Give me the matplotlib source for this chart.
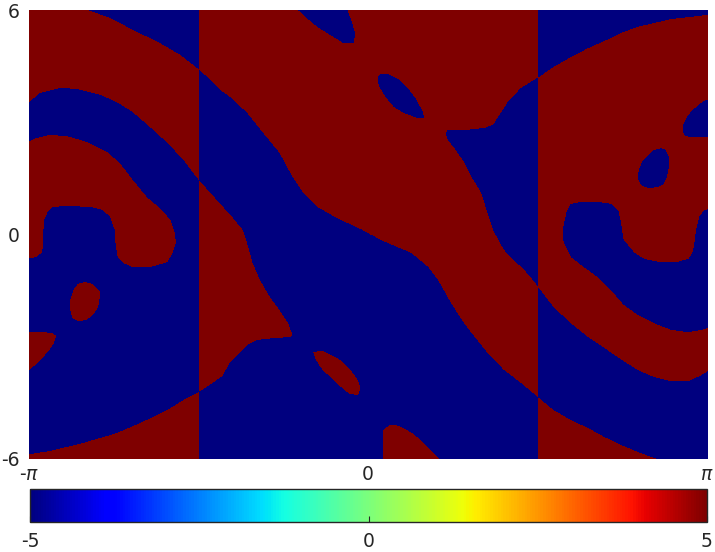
import numpy as np
import matplotlib
matplotlib.use("Agg")
import matplotlib.pyplot as plt
from matplotlib.path import Path

plt.rcParams['axes.unicode_minus'] = False
plt.rcParams['font.family'] = 'DejaVu Sans'

# the picture only has two levels, the ends of the colour scale
LOW, HIGH = -5, 5

# the field jumps at x = -pi/2 and x = pi/2, so each band is traced on its own
band_cuts = [-np.pi / 2, np.pi / 2]

# outlines, (x, y) in data units

# left band (x < -pi/2)
left_top_red = [(-3.2, 6.2), (-2.60, 6.2), (-2.60, 6.00), (-2.39, 5.79), (-2.18, 5.47), (-1.93, 5.12),
                (-1.74, 4.80), (-1.57, 4.42), (-1.5, 4.42), (-1.5, 1.46), (-1.57, 1.46), (-1.71, 1.99),
                (-1.86, 2.45), (-2.02, 2.87), (-2.18, 3.27), (-2.33, 3.54), (-2.48, 3.73), (-2.70, 3.89),
                (-2.85, 3.92), (-3.04, 3.78), (-3.14, 3.54), (-3.2, 3.54)]
left_hook_red = [(-3.2, 2.42), (-3.07, 2.58), (-2.95, 2.66), (-2.79, 2.63), (-2.60, 2.47), (-2.42, 2.21),
                 (-2.30, 1.91), (-2.18, 1.46), (-2.05, 1.00), (-1.93, 0.71), (-1.83, 0.39), (-1.79, 0.04),
                 (-1.78, -0.23), (-1.81, -0.49), (-1.86, -0.74), (-2.02, -0.87), (-2.18, -0.87),
                 (-2.27, -0.76), (-2.32, -0.60), (-2.34, -0.23), (-2.34, 0.12), (-2.36, 0.20),
                 (-2.39, 0.47), (-2.46, 0.66), (-2.58, 0.74), (-2.79, 0.76), (-2.92, 0.74), (-2.97, 0.60),
                 (-3.00, 0.39), (-3.01, 0.04), (-3.01, -0.23), (-3.02, -0.47), (-3.07, -0.60),
                 (-3.13, -0.63), (-3.2, -0.63)]
left_blob_red = [(-2.62, -1.27), (-2.55, -1.32), (-2.48, -1.54), (-2.49, -1.75), (-2.50, -1.94),
                 (-2.55, -2.15), (-2.61, -2.29), (-2.69, -2.31), (-2.74, -2.23), (-2.76, -2.02),
                 (-2.76, -1.75), (-2.73, -1.48), (-2.69, -1.32)]
left_edge_blob_red = [(-3.2, -2.61), (-3.01, -2.61), (-2.93, -2.63), (-2.89, -2.71), (-2.91, -2.90),
                      (-2.96, -3.11), (-3.04, -3.38), (-3.14, -3.62), (-3.2, -3.62)]
left_bottom_red = [(-3.2, -5.87), (-3.14, -5.87), (-2.95, -5.79), (-2.64, -5.57), (-2.33, -5.31),
                   (-2.09, -5.01), (-1.86, -4.69), (-1.68, -4.37), (-1.57, -4.21), (-1.5, -4.21),
                   (-1.5, -6.2), (-3.2, -6.2)]

# middle band (-pi/2 < x < pi/2)
mid_upper_red = [(-1.65, 6.2), (1.65, 6.2), (1.65, -4.37), (1.575, -4.37), (1.41, -3.97), (1.25, -3.62),
                 (1.10, -3.17), (0.95, -2.63), (0.88, -2.37), (0.76, -1.83), (0.64, -1.22), (0.55, -0.87),
                 (0.39, -0.49), (0.11, -0.15), (-0.05, 0.12), (-0.29, 0.44), (-0.47, 0.74), (-0.60, 1.11),
                 (-0.70, 1.54), (-0.82, 2.18), (-0.97, 2.71), (-1.12, 3.25), (-1.28, 3.68), (-1.37, 3.86),
                 (-1.46, 4.13), (-1.57, 4.42), (-1.65, 4.50)]
mid_right_blue = [(0.71, 2.71), (0.73, 2.79), (0.88, 2.79), (1.07, 2.85), (1.15, 2.93), (1.22, 3.25),
                  (1.30, 3.60), (1.41, 3.92), (1.50, 4.08), (1.575, 4.21), (1.65, 4.21), (1.65, -1.43),
                  (1.575, -1.43), (1.52, -1.22), (1.44, -0.95), (1.34, -0.68), (1.25, -0.41),
                  (1.20, -0.15), (1.15, 0.12), (1.13, 0.31), (1.08, 0.74), (1.04, 1.11), (0.95, 1.54),
                  (0.88, 1.94), (0.79, 2.31), (0.73, 2.53)]
mid_top_blob_blue = [(-0.65, 6.2), (-0.65, 6.00), (-0.57, 5.79), (-0.47, 5.55), (-0.35, 5.33),
                     (-0.23, 5.12), (-0.13, 5.12), (-0.12, 5.39), (-0.15, 5.68), (-0.19, 6.00), (-0.19, 6.2)]
mid_blob_blue = [(0.08, 4.21), (0.11, 4.29), (0.18, 4.29), (0.27, 4.16), (0.36, 3.92), (0.44, 3.60),
                 (0.50, 3.27), (0.51, 3.11), (0.45, 3.11), (0.32, 3.25), (0.23, 3.41), (0.16, 3.65),
                 (0.10, 3.92), (0.08, 4.08)]
mid_left_red = [(-1.65, 1.46), (-1.57, 1.46), (-1.40, 0.92), (-1.26, 0.47), (-1.16, 0.12), (-1.11, -0.33),
                (-1.07, -0.76), (-1.00, -1.22), (-0.91, -1.67), (-0.82, -2.02), (-0.74, -2.37),
                (-0.70, -2.69), (-0.72, -2.74), (-0.88, -2.77), (-1.03, -2.82), (-1.12, -2.95),
                (-1.20, -3.19), (-1.28, -3.43), (-1.35, -3.78), (-1.44, -3.97), (-1.57, -4.21), (-1.65, -4.21)]
mid_blob_red = [(-0.51, -3.14), (-0.42, -3.11), (-0.32, -3.25), (-0.26, -3.35), (-0.19, -3.54),
                (-0.14, -3.70), (-0.09, -3.92), (-0.07, -4.08), (-0.09, -4.29), (-0.17, -4.26),
                (-0.23, -4.13), (-0.29, -3.97), (-0.35, -3.81), (-0.42, -3.62), (-0.46, -3.46), (-0.49, -3.30)]
mid_bottom_red = [(0.13, -6.2), (0.13, -5.23), (0.19, -5.09), (0.25, -5.09), (0.32, -5.17), (0.41, -5.33),
                  (0.48, -5.49), (0.57, -5.76), (0.65, -6.0), (0.66, -6.2)]

# right band (x > pi/2)
right_main_red = [(1.5, 4.21), (1.575, 4.21), (1.71, 4.48), (1.87, 4.74), (2.03, 4.98), (2.18, 5.17),
                  (2.34, 5.39), (2.49, 5.55), (2.64, 5.65), (2.80, 5.76), (2.96, 5.81), (3.14, 5.87),
                  (3.2, 5.87), (3.2, -3.54), (3.08, -3.76), (2.96, -3.92), (2.80, -3.92), (2.64, -3.81),
                  (2.49, -3.62), (2.34, -3.35), (2.18, -3.03), (2.03, -2.74), (1.87, -2.37), (1.71, -1.94),
                  (1.575, -1.43), (1.5, -1.43)]
right_edge_blob_blue = [(3.2, 3.60), (3.12, 3.60), (3.05, 3.46), (2.98, 3.27), (2.94, 3.11), (2.91, 2.93),
                        (2.91, 2.74), (2.93, 2.63), (2.98, 2.61), (3.2, 2.61)]
right_blob_blue = [(2.71, 2.31), (2.75, 2.26), (2.78, 2.07), (2.78, 1.80), (2.76, 1.54), (2.73, 1.35),
                   (2.68, 1.27), (2.59, 1.24), (2.52, 1.32), (2.49, 1.51), (2.50, 1.72), (2.53, 1.94),
                   (2.59, 2.12), (2.64, 2.26)]
right_hook_blue = [(1.80, -0.15), (1.80, 0.20), (1.83, 0.60), (1.87, 0.82), (1.97, 0.87), (2.12, 0.87),
                   (2.24, 0.82), (2.31, 0.65), (2.33, 0.39), (2.35, 0.04), (2.36, -0.15), (2.40, -0.28),
                   (2.46, -0.49), (2.55, -0.65), (2.68, -0.73), (2.86, -0.73), (2.96, -0.65), (3.00, -0.47),
                   (3.02, -0.15), (3.03, 0.12), (3.06, 0.47), (3.10, 0.63), (3.14, 0.68), (3.2, 0.68),
                   (3.2, -2.45), (3.08, -2.55), (2.96, -2.61), (2.80, -2.55), (2.64, -2.37), (2.49, -2.15),
                   (2.36, -1.88), (2.24, -1.48), (2.12, -1.14), (1.99, -0.87), (1.87, -0.60), (1.81, -0.23)]
right_bottom_red = [(1.5, -4.37), (1.575, -4.37), (1.71, -4.69), (1.87, -4.96), (2.03, -5.17),
                    (2.18, -5.41), (2.34, -5.63), (2.49, -5.81), (2.64, -5.97), (2.68, -6.0), (2.7, -6.2),
                    (1.5, -6.2)]

# (band, level, outline), painted in order over the LOW background
layers = [
    (0, HIGH, left_top_red), (0, HIGH, left_hook_red), (0, HIGH, left_blob_red),
    (0, HIGH, left_edge_blob_red), (0, HIGH, left_bottom_red),
    (1, HIGH, mid_upper_red), (1, LOW, mid_right_blue), (1, LOW, mid_top_blob_blue),
    (1, LOW, mid_blob_blue), (1, HIGH, mid_left_red), (1, HIGH, mid_blob_red), (1, HIGH, mid_bottom_red),
    (2, HIGH, right_main_red), (2, LOW, right_edge_blob_blue), (2, LOW, right_blob_blue),
    (2, LOW, right_hook_blue), (2, HIGH, right_bottom_red),
]

nx, ny = 678, 449
xs = -np.pi + (np.arange(nx) + 0.5) * (2 * np.pi / nx)
ys = -6 + (np.arange(ny) + 0.5) * (12 / ny)
X, Y = np.meshgrid(xs, ys)
pts = np.column_stack([X.ravel(), Y.ravel()])
band = np.digitize(X, band_cuts)

field = np.full(X.shape, float(LOW))
for b, level, outline in layers:
    inside = Path(outline).contains_points(pts).reshape(X.shape)
    field[inside & (band == b)] = level

text_color = '#262626'
fig = plt.figure(figsize=(7.15, 5.52), dpi=100)
ax = fig.add_axes([29 / 715, 93 / 552, 678 / 715, 449 / 552])
im = ax.imshow(field, extent=[-np.pi, np.pi, -6, 6], origin='lower', cmap='jet',
               vmin=LOW, vmax=HIGH, aspect='auto', interpolation='nearest')
ax.set_xlim(-np.pi, np.pi)
ax.set_ylim(-6, 6)
for s in ax.spines.values():
    s.set_visible(False)
ax.set_xticks([-np.pi, 0, np.pi])
ax.set_xticklabels(['-$\\pi$', '0', '$\\pi$'])
ax.set_yticks([-6, 0, 6])
ax.set_yticklabels(['-6', '0', '6'])
ax.tick_params(length=0, labelsize=13.5, colors=text_color)
ax.tick_params(axis='x', pad=4)
ax.tick_params(axis='y', pad=7)

cax = fig.add_axes([30 / 715, 30 / 552, 677 / 715, 33 / 552])
cbar = fig.colorbar(im, cax=cax, orientation='horizontal', ticks=[-5, 0, 5])
cbar.outline.set_linewidth(1.0)
cbar.outline.set_edgecolor('#262626')
cax.tick_params(direction='in', length=4, width=0.8, pad=7.5, labelsize=13.5, colors=text_color)
cax.set_xticklabels(['-5', '0', '5'])

fig.savefig('out.png', dpi=100)
